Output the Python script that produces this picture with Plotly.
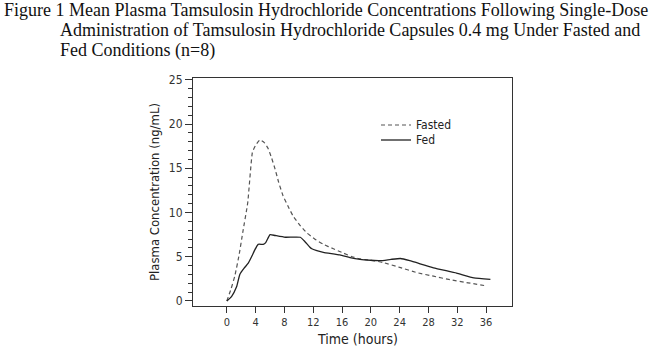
import plotly.graph_objects as go

# Data
fasted_t = [0, 0.6, 1.1, 1.7, 2.2, 2.9, 3.55, 4.0, 4.6, 5.2, 5.75, 6.2, 6.7, 7.2, 7.8, 8.5, 9.2, 10.1, 11.1, 12.2, 13.4, 14.8, 16.2, 17.4, 18.5, 20.0, 21.7, 24.0, 26.4, 28.7, 31.0, 33.5, 36.1]
fasted_c = [0, 1.4, 2.8, 5.2, 7.7, 11.1, 16.8, 17.6, 18.2, 17.9, 17.2, 16.2, 14.9, 13.4, 11.9, 10.7, 9.6, 8.6, 7.7, 7.0, 6.4, 5.9, 5.4, 5.0, 4.75, 4.6, 4.35, 3.8, 3.2, 2.8, 2.4, 2.05, 1.7]

fed_t = [0, 0.65, 1.35, 1.8, 2.4, 3.0, 3.5, 3.9, 4.35, 5.05, 5.4, 6.0, 6.7, 8.1, 10.2, 10.85, 11.5, 11.8, 12.5, 13.4, 15.7, 17.1, 18.5, 20.0, 21.3, 22.8, 24.1, 25.4, 28.7, 31.9, 34.3, 36.6]
fed_c = [0, 0.5, 1.6, 3.0, 3.7, 4.3, 5.1, 5.8, 6.4, 6.4, 6.6, 7.5, 7.4, 7.2, 7.2, 6.7, 6.1, 5.9, 5.7, 5.5, 5.2, 4.9, 4.7, 4.6, 4.55, 4.7, 4.8, 4.55, 3.75, 3.15, 2.6, 2.45]

x_ticks = [0, 4, 8, 12, 16, 20, 24, 28, 32, 36]
y_ticks = [0, 5, 10, 15, 20, 25]

series_names = ["Fasted", "Fed"]
x_title = "Time (hours)"
y_title = "Plasma Concentration (ng/mL)"

title_lines = [
    "Figure 1 Mean Plasma Tamsulosin Hydrochloride Concentrations Following Single-Dose",
    "Administration of Tamsulosin Hydrochloride Capsules 0.4 mg Under Fasted and",
    "Fed Conditions (n=8)",
]

narrow = "DejaVu Sans Condensed, Liberation Sans Narrow, Arial Narrow, sans-serif"
serif = "Liberation Serif, Times New Roman, serif"

fasted_style = dict(color="#555555", width=1.2, dash="4px,3px")
fed_style = dict(color="#222222", width=1.3)

fig = go.Figure()
fig.add_trace(go.Scatter(x=fasted_t, y=fasted_c, mode="lines", name=series_names[0],
                         line=dict(shape="spline", smoothing=0.4, **fasted_style)))
fig.add_trace(go.Scatter(x=fed_t, y=fed_c, mode="lines", name=series_names[1],
                         line=dict(shape="spline", smoothing=0.4, **fed_style)))

W, H = 660, 346
L, R, T, B = 193, 512, 78, 306

def px(xp):
    return (xp - L) / (R - L)

def py(yp):
    return (B - yp) / (B - T)

annotations = []
title_pos = [(2, 10), (58, 30), (58, 50)]
for line, (xp, yp) in zip(title_lines, title_pos):
    annotations.append(dict(text=line, xref="paper", yref="paper", x=px(xp), y=py(yp),
                            xanchor="left", yanchor="middle", showarrow=False,
                            font=dict(family=serif, size=18, color="#111111")))

# x-axis title
annotations.append(dict(text=x_title, xref="paper", yref="paper", x=px(357), y=py(339),
                        xanchor="center", yanchor="middle", showarrow=False, borderpad=0,
                        font=dict(family=narrow, size=14, color="#222222")))

# manual legend
shapes = []
for name, style, yp in zip(series_names, [fasted_style, fed_style], [125, 140]):
    shapes.append(dict(type="line", xref="paper", yref="paper",
                       x0=px(381), x1=px(411), y0=py(yp), y1=py(yp),
                       line=dict(color=style["color"], width=style["width"], dash=style.get("dash", "solid"))))
    annotations.append(dict(text=name, xref="paper", yref="paper", x=px(414), y=py(yp),
                            xanchor="left", yanchor="middle", showarrow=False,
                            font=dict(family=narrow, size=12, color="#222222")))

fig.update_layout(
    width=W, height=H,
    margin=dict(l=L, r=W - R, t=T, b=H - B, pad=0, autoexpand=False),
    paper_bgcolor="white", plot_bgcolor="white",
    showlegend=False,
    annotations=annotations,
    shapes=shapes,
    xaxis=dict(range=[-4.7, 39.6], tickmode="array", tickvals=x_ticks,
               ticks="outside", ticklen=6, tickcolor="#333333", tickwidth=1,
               automargin=False,
               showline=True, linecolor="#333333", linewidth=1, mirror=True,
               showgrid=False, zeroline=False,
               tickfont=dict(family=narrow, size=11, color="#333333")),
    yaxis=dict(range=[-0.57, 25.2], tickmode="array", tickvals=y_ticks,
               ticks="outside", ticklen=7, tickcolor="#333333", tickwidth=1,
               automargin=False,
               minor=dict(dtick=1, tick0=0, ticks="outside", ticklen=4, tickcolor="#333333", showgrid=False),
               showline=True, linecolor="#333333", linewidth=1, mirror=True,
               showgrid=False, zeroline=False,
               tickfont=dict(family=narrow, size=12, color="#333333"),
               title=dict(text=y_title, font=dict(family=narrow, size=13, color="#222222"), standoff=6)),
)

fig.write_html("out.html")
